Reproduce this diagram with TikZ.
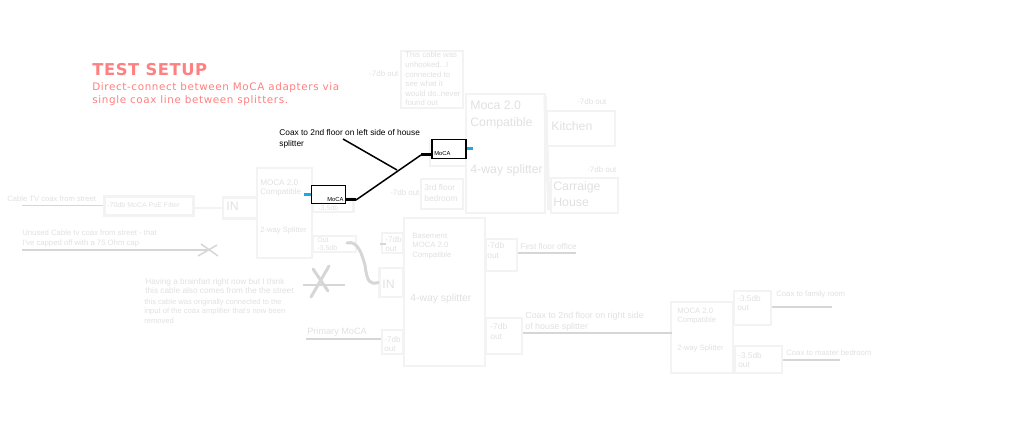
\documentclass[tikz,border=0pt]{standalone}
\usepackage{fontspec}
\setmainfont{Liberation Sans}
\newfontfamily\titlefont[LetterSpace=3.5]{DejaVu Sans}
\newfontfamily\subfont[LetterSpace=6]{DejaVu Sans}
\definecolor{boxgray}{HTML}{F3F3F3}
\definecolor{textgray}{HTML}{E0E0E0}
\definecolor{coaxgray}{HTML}{D6D6D6}
\definecolor{titlered}{HTML}{FF8080}
\definecolor{mocablue}{HTML}{1CA9E0}
\begin{document}
\begin{tikzpicture}[x=0.02cm, y=-0.02cm,
  pbox/.style 2 args={rectangle, draw=boxgray, line width=0.05cm, inner sep=0pt, minimum width=#1*0.02cm, minimum height=#2*0.02cm},
  moca/.style={rectangle, draw=black, line width=0.025cm, fill=white, inner sep=0pt, minimum width=0.68cm, minimum height=0.37cm},
  lbl/.style={anchor=west, inner sep=0pt, align=left, text=textgray, font=\fontsize{4.35}{5.4}\selectfont},
  midlbl/.style={lbl, font=\fontsize{5.9}{6.6}\selectfont},
  biglbl/.style={lbl, font=\fontsize{7}{9.2}\selectfont},
  coax/.style={draw=coaxgray, line width=0.03cm},
  thincoax/.style={draw=coaxgray, line width=0.015cm},
  fatcoax/.style={draw=coaxgray, line width=0.06cm, line cap=round},
  link/.style={draw=boxgray, line width=0.05cm},
  blackline/.style={draw=black, line width=0.03cm},
  blackfat/.style={draw=black, line width=0.06cm},
  bluedash/.style={draw=mocablue, line width=0.06cm}
]
\useasboundingbox (0,0) rectangle (1024,442);

% heading
\node (title) [anchor=west, inner sep=0pt, text=titlered, font=\fontsize{9.3}{10}\titlefont\bfseries] at (92,70) {TEST SETUP};
\node (subtitle) [anchor=west, inner sep=0pt, align=left, text=titlered, font=\fontsize{5.9}{7.4}\subfont] at (92,94.5) {Direct-connect between MoCA adapters via\\single coax line between splitters.};

% street side
\node (filter) [pbox={89}{19}] at (149,206) {};
\node (filtertext) [lbl, font=\fontsize{4}{5}\selectfont] at (107,205) {-70db MoCA PoE Filter};
\node (inleft) [pbox={34}{21}] at (240,208) {};
\node (inlefttext) [biglbl] at (226,206) {IN};
\node (splitleft) [pbox={55}{90}] at (284.5,213) {};
\node (splitlefttop) [lbl, font=\fontsize{4.6}{5.6}\selectfont] at (260,188) {MOCA 2.0\\Compatible};
\node (splitleftbot) [lbl] at (260,231) {2-way Splitter};
\node (streettext) [lbl] at (7,199) {Cable TV coax from street};
\coordinate (streetend) at (22,205);
\draw [thincoax] (streetend) -- (filter.west |- streetend);
\draw [link] (filter.east |- inleft.west) -- (inleft.west);

% outputs of left splitter
\node (outupper) [pbox={41}{14}] at (333,205) {};
\node (outuppertext) [lbl, font=\fontsize{4}{5}\selectfont] at (318,208) {-3.5db};
\node (outlower) [pbox={43}{16}] at (334.5,244) {};
\node (outlowertext) [lbl, font=\fontsize{4}{4.6}\selectfont] at (317,244) {Out\\-3.5db};

% capped cable
\node (unusedtext) [lbl, font=\fontsize{4.4}{5.5}\selectfont] at (22,238.5) {Unused Cable tv coax from street - that\\I've capped off with a 75 Ohm cap};
\coordinate (unusedstart) at (22,250);
\coordinate (unusedcap) at (207,250);
\draw [coax] (unusedstart) -- (unusedcap);
\coordinate (crossa) at (198,256);
\coordinate (crossb) at (217,245);
\coordinate (crossc) at (201,244);
\coordinate (crossd) at (218,256);
\draw [coax] (crossa) -- (crossb);
\draw [coax] (crossc) -- (crossd);

% note with second cross
\node (brainfart) [lbl, font=\fontsize{4.7}{5.5}\selectfont] at (145,286) {Having a brainfart right now but I think\\this cable also comes from the the street};
\node (brainfarttwo) [lbl, font=\fontsize{4.3}{5.5}\selectfont] at (144,311) {this cable was originally connected to the\\input of the coax amplifier that's now been\\removed};
\coordinate (crossstart) at (303,285);
\coordinate (crossend) at (345,285);
\draw [coax] (crossstart) -- (crossend);
\coordinate (crosse) at (329,266);
\coordinate (crossf) at (311,297);
\coordinate (crossg) at (313,269);
\coordinate (crossh) at (328,291);
\draw [fatcoax] (crosse) -- (crossf);
\draw [fatcoax] (crossg) -- (crossh);

% basement splitter
\node (splitbase) [pbox={81}{148}] at (444.5,292) {};
\node (basetext) [lbl, font=\fontsize{4.4}{5.4}\selectfont] at (412,246) {Basement\\MOCA 2.0\\Compatible};
\node (basewaytext) [midlbl] at (410,299) {4-way splitter};
\node (inbase) [pbox={24}{29}] at (391.5,282.5) {};
\node (inbasetext) [biglbl] at (382,284) {IN};
\node (outbaseup) [pbox={21}{20}] at (392.5,243) {};
\node (outbaseuptext) [lbl, font=\fontsize{4.6}{5.5}\selectfont] at (385,244) {-7db\\out};
\coordinate (tickstart) at (380,244);
\coordinate (tickend) at (386,244);
\draw [coax] (tickstart) -- (tickend);
\node (outbasedown) [pbox={21}{24}] at (392.5,342) {};
\node (outbasedowntext) [lbl, font=\fontsize{4.6}{5.5}\selectfont] at (384,344) {-7db\\out};
\node (primarytext) [lbl, font=\fontsize{5.2}{6}\selectfont] at (307,332) {Primary MoCA};
\coordinate (primarystart) at (306,339);
\draw [coax] (primarystart) -- (outbasedown.west |- primarystart);
\coordinate (bendstart) at (347,243);
\draw [fatcoax] (bendstart) .. controls (358,240) and (362,255) .. (365,265) .. controls (367,282) and (370,285) .. (inbase.west);

% basement outputs
\node (outoffice) [pbox={31}{32}] at (501.5,255) {};
\node (outofficetext) [lbl, font=\fontsize{4.8}{5.7}\selectfont] at (487,250) {-7db\\out};
\node (officetext) [lbl, font=\fontsize{4.7}{5.6}\selectfont] at (520,247) {First floor office};
\coordinate (officeend) at (576,253);
\draw [coax] (outoffice.east |- officeend) -- (officeend);
\node (outright) [pbox={36}{36}] at (504,336) {};
\node (outrighttext) [lbl, font=\fontsize{4.8}{5.7}\selectfont] at (490,331) {-7db\\out};
\node (rightcoaxtext) [lbl, font=\fontsize{5.05}{6.3}\selectfont] at (525,322) {Coax to 2nd floor on right side\\of house splitter};

% right splitter
\node (splitright) [pbox={62}{71}] at (702,337.5) {};
\node (splitrighttop) [lbl] at (677,316) {MOCA 2.0\\Compatible};
\node (splitrightbot) [lbl] at (677,349) {2-way Splitter};
\coordinate (rightline) at (672,333);
\draw [coax] (outright.east |- rightline) -- (rightline);
\node (outfamily) [pbox={37}{34}] at (752.5,308) {};
\node (outfamilytext) [lbl, font=\fontsize{4.7}{5.6}\selectfont] at (737,303) {-3.5db\\out};
\node (familytext) [lbl, font=\fontsize{4.4}{5}\selectfont] at (776,295) {Coax to family room};
\coordinate (familyend) at (832,307);
\draw [coax] (outfamily.east |- familyend) -- (familyend);
\node (outmaster) [pbox={47}{27}] at (758.5,359.5) {};
\node (outmastertext) [lbl, font=\fontsize{4.7}{5.6}\selectfont] at (738,360) {-3.5db\\out};
\node (mastertext) [lbl, font=\fontsize{4.4}{5}\selectfont] at (786,353) {Coax to master bedroom};
\coordinate (masterend) at (840,360);
\draw [coax] (outmaster.east |- masterend) -- (masterend);

% upper splitter
\node (unhooked) [pbox={62}{57}] at (432,79.5) {};
\node (unhookedtext) [lbl, font=\fontsize{4.45}{5.45}\selectfont] at (405,79) {This cable was\\unhooked...I\\connected to\\see what it\\would do..never\\found out};
\node (unhookedout) [lbl, font=\fontsize{4.5}{5.4}\selectfont] at (369,74) {-7db out};
\node (splitup) [pbox={79}{119}] at (505.5,153.5) {};
\node (splituptext) [biglbl] at (470,115) {Moca 2.0\\Compatible};
\node (splitupway) [biglbl] at (470,170.5) {4-way splitter};
\node (behindmoca) [pbox={36}{26}] at (448,153) {};
\node (bedroom) [pbox={42}{30}] at (442,194) {};
\node (bedroomtext) [lbl, font=\fontsize{4.8}{6.1}\selectfont] at (424,193) {3rd floor\\bedroom};
\node (bedroomout) [lbl, font=\fontsize{4.5}{5.4}\selectfont] at (390,193) {-7db out};
\node (kitchen) [pbox={68}{35}] at (581,128.5) {};
\node (kitchentext) [biglbl] at (551,126) {Kitchen};
\node (kitchenout) [lbl, font=\fontsize{4.5}{5.4}\selectfont] at (577,102) {-7db out};
\node (carriage) [pbox={67}{35}] at (584.5,195.5) {};
\node (carriagetext) [biglbl] at (553,194.5) {Carraige\\House};
\node (carriageout) [lbl, font=\fontsize{4.5}{5.4}\selectfont] at (587,170) {-7db out};
\coordinate (slantstart) at (545,97);
\coordinate (slantend) at (549,210);
\draw [link, line width=0.07cm] (slantstart) -- (slantend);

% moca adapters on top
\node (mocaleft) [moca] at (328.5,194.5) {};
\node (mocalefttext) [anchor=west, inner sep=0pt, font=\fontsize{3.3}{4}\selectfont] at (327,199.5) {MoCA};
\node (mocaup) [moca] at (449,149) {};
\node (mocauptext) [anchor=west, inner sep=0pt, font=\fontsize{3.3}{4}\selectfont] at (434,153.5) {MoCA};
\coordinate (blueleft) at (304,194.5);
\coordinate (blueup) at (473,149);
\draw [bluedash] (blueleft) -- (mocaleft.west);
\draw [bluedash] (mocaup.east) -- (blueup);

% black coax run
\coordinate (runleft) at (356,200);
\coordinate (runup) at (421,155);
\coordinate (labelend) at (397,170);
\coordinate (labelstart) at (343,139);
\draw [blackfat] (mocaleft.east |- runleft) -- (runleft);
\draw [blackfat] (runup) -- (mocaup.west |- runup);
\draw [blackline] (runleft) -- (runup);
\draw [blackline] (labelstart) -- (labelend);
\node (coaxleft) [anchor=west, inner sep=0pt, align=left, font=\fontsize{4.75}{6.1}\selectfont] at (279,138.5) {Coax to 2nd floor on left side of house\\splitter};

\end{tikzpicture}
\end{document}
